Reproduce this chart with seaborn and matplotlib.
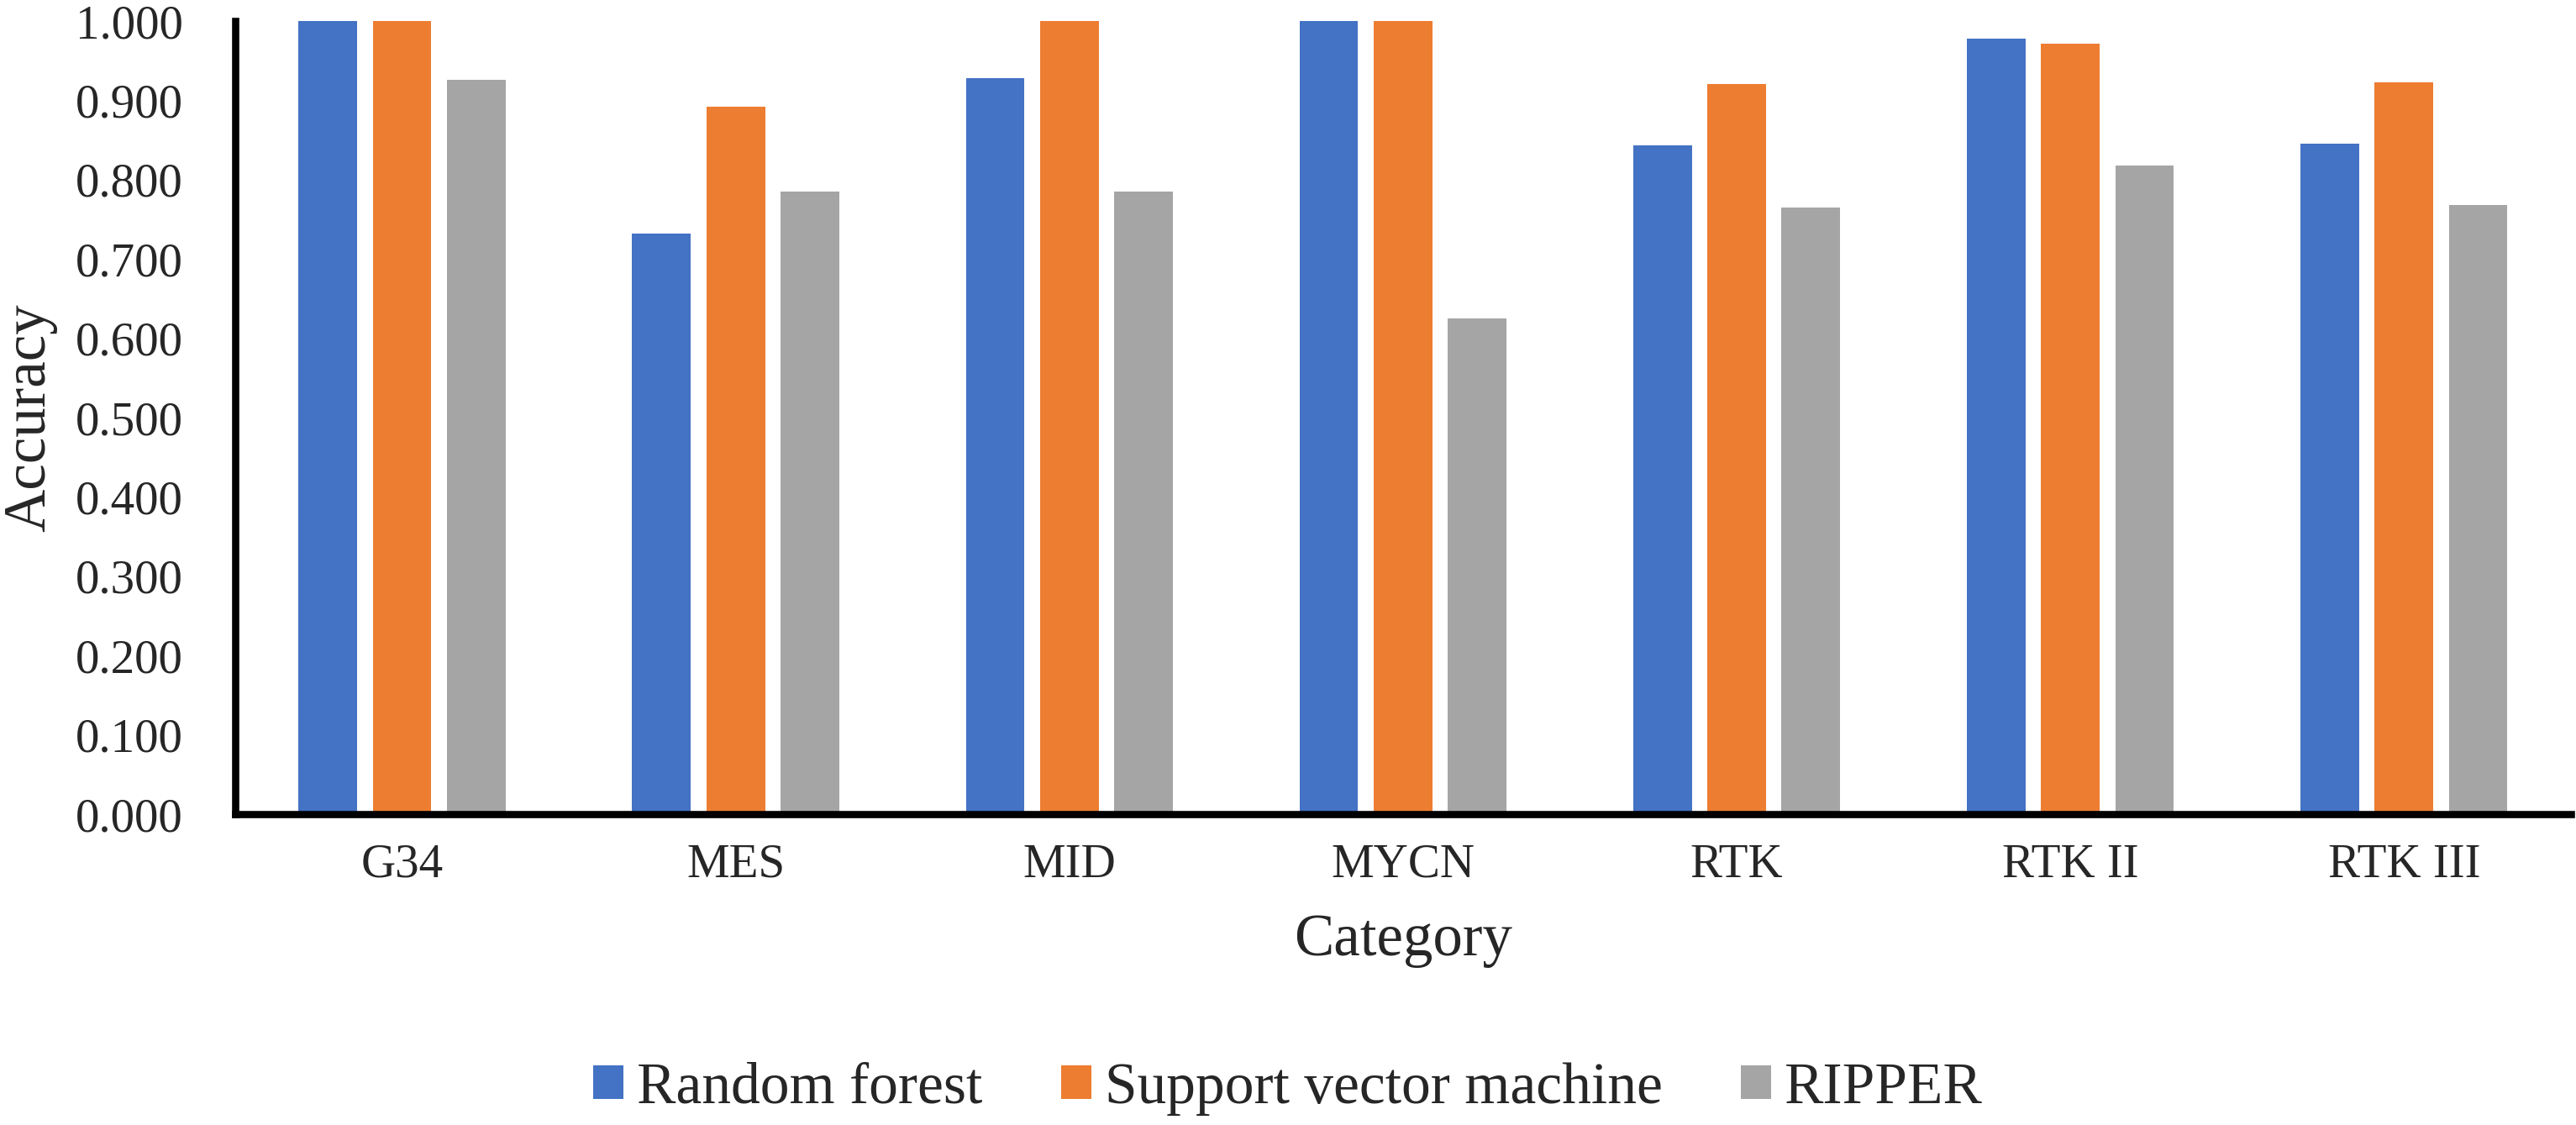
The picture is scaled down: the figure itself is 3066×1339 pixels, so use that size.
import numpy as np
import pandas as pd
import matplotlib
matplotlib.use("Agg")
import matplotlib.pyplot as plt
import seaborn as sns

# values
categories = ["G34", "MES", "MID", "MYCN", "RTK", "RTK II", "RTK III"]
models = ["Random forest", "Support vector machine", "RIPPER"]
random_forest = [1.000, 0.732, 0.928, 1.000, 0.843, 0.978, 0.845]
svm = [1.000, 0.892, 1.000, 1.000, 0.921, 0.971, 0.923]
ripper = [0.926, 0.785, 0.785, 0.625, 0.765, 0.818, 0.768]
yticks = [0.0, 0.1, 0.2, 0.3, 0.4, 0.5, 0.6, 0.7, 0.8, 0.9, 1.0]

colors = ["#4472C4", "#ED7D31", "#A5A5A5"]

df = pd.DataFrame({
    "Category": categories * 3,
    "Accuracy": random_forest + svm + ripper,
    "Model": [m for m in models for _ in categories],
})

sns.set_style("white")
plt.rcParams["font.family"] = ["Liberation Serif", "DejaVu Serif"]

fig = plt.figure(figsize=(30.66, 13.39), dpi=100)
ax = fig.add_axes([0.0913, 0.2763, 0.9067, 0.705])

sns.barplot(data=df, x="Category", y="Accuracy", hue="Model", hue_order=models,
            order=categories, palette=colors, saturation=1, width=0.667, gap=0.21,
            linewidth=0, errorbar=None, ax=ax)

ax.set_xlim(-0.5, 6.5)
ax.set_ylim(0, 1)
ax.set_yticks(yticks)
ax.set_yticklabels([f"{t:.3f}" for t in yticks])

for s in ["top", "right"]:
    ax.spines[s].set_visible(False)
for s in ["left", "bottom"]:
    ax.spines[s].set_linewidth(6.2)
    ax.spines[s].set_color("black")

ax.tick_params(axis="y", direction="out", length=10.8, width=6.2, pad=34, labelsize=41, color="black")
ax.tick_params(axis="x", length=0, pad=25, labelsize=41)

ax.set_xlabel("Category", fontsize=51)
ax.set_ylabel("Accuracy", fontsize=51)
ax.xaxis.set_label_coords(0.5, -0.125)
ax.yaxis.set_label_coords(-0.0763, 0.5)

# rebuild the legend below the plot
handles, labels = ax.get_legend_handles_labels()
ax.get_legend().remove()
leg = ax.legend(handles, labels, loc="center", bbox_to_anchor=(0.5, 0.032),
                bbox_transform=fig.transFigure, ncol=3, frameon=False, fontsize=50,
                handlelength=0.52, handleheight=0.5, handletextpad=0.23, columnspacing=1.34)
for t in leg.get_texts():
    t.set_fontfamily("Liberation Serif")
    t.set_fontsize(50)

fig.savefig("out.png", dpi=100)
